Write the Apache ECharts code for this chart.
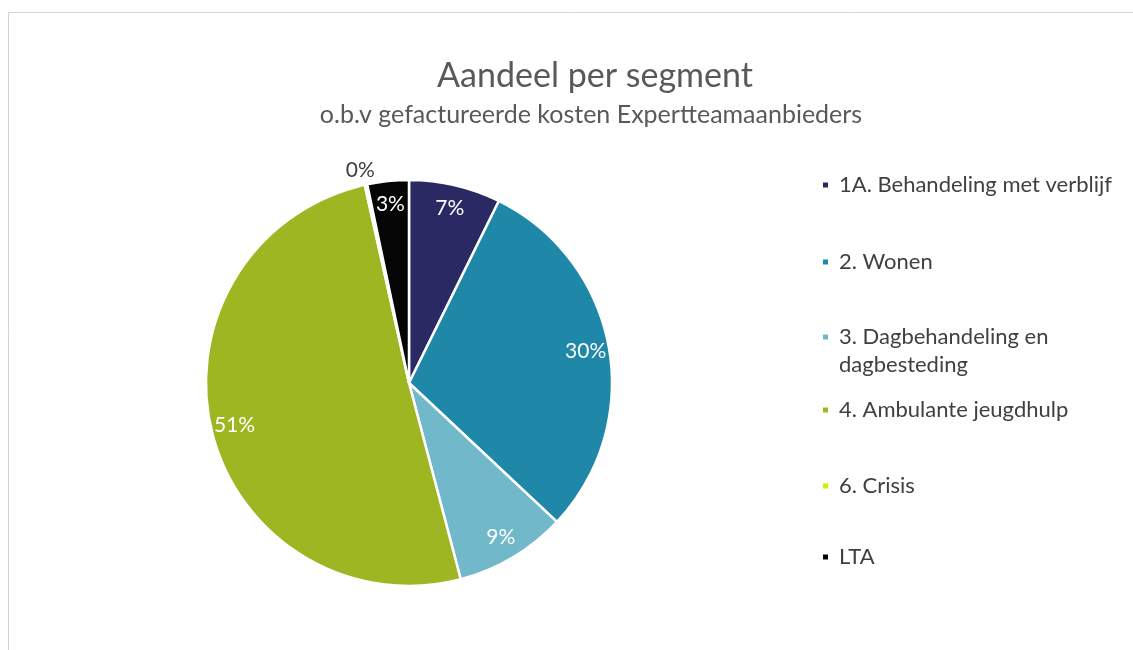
<!DOCTYPE html>
<html>
<head>
<meta charset="utf-8">
<script src="https://cdn.jsdelivr.net/npm/echarts@6/dist/echarts.min.js"></script>
<style>
html,body{margin:0;padding:0;background:#fff;}
#chart{width:1133px;height:650px;}
</style>
</head>
<body>
<div id="chart"></div>
<script>
// Data
var categories = ['1A. Behandeling met verblijf', '2. Wonen', '3. Dagbehandeling en dagbesteding', '4. Ambulante jeugdhulp', '6. Crisis', 'LTA'];
var shares = [7.3, 29.7, 8.9, 50.6, 0.2, 3.3];
var sliceColors = ['#2b2964', '#1f88a8', '#72b8cb', '#9eb622', '#cdf000', '#050505'];
var titleText = 'Aandeel per segment';
var subtitleText = 'o.b.v gefactureerde kosten Expertteamaanbieders';

var FONT = 'Lato';
var legendCenters = [185, 262, 337, 410, 486, 557];

var chart = echarts.init(document.getElementById('chart'));

var mainData = categories.map(function (c, i) {
  return { name: c, value: shares[i], itemStyle: { color: sliceColors[i] } };
});
var labelData = categories.map(function (c, i) {
  var item = { name: c, value: shares[i] };
  if (shares[i] < 1) {
    item.label = { position: 'outside', color: '#404040', distanceToLabelLine: -12 };
    item.labelLine = { show: false, length: 15, length2: 0 };
  }
  return item;
});

var legends = categories.map(function (c, i) {
  var twoLine = c.indexOf('Dagbehandeling') >= 0;
  return {
    data: [c],
    left: 816,
    top: legendCenters[i] - (twoLine ? 47 : 19),
    orient: 'vertical',
    icon: 'rect',
    itemWidth: 7,
    itemHeight: 7,
    itemGap: 6,
    selectedMode: false,
    formatter: function (n) {
      return twoLine ? '\n3. Dagbehandeling en\ndagbesteding' : n;
    },
    textStyle: {
      fontFamily: FONT,
      fontSize: 22,
      color: '#404040',
      lineHeight: 28,
      padding: [0, 0, 0, 5]
    }
  };
});

var option = {
  backgroundColor: '#ffffff',
  animation: false,
  color: sliceColors,
  title: [{
    text: titleText,
    left: 590,
    top: 54,
    textAlign: 'center',
    textStyle: { fontFamily: FONT, fontSize: 34, fontWeight: 'normal', color: '#595959' }
  }, {
    text: subtitleText,
    left: 586,
    top: 97,
    textAlign: 'center',
    textStyle: { fontFamily: FONT, fontSize: 25, fontWeight: 'normal', color: '#595959' }
  }],
  legend: legends,
  graphic: [{
    type: 'polyline',
    silent: true,
    shape: { points: [[8.5, 660], [8.5, 12.5], [1140, 12.5]] },
    style: { stroke: '#d4d4d4', lineWidth: 1, fill: null }
  }],
  series: [{
    type: 'pie',
    center: [409, 383],
    radius: [0, 203],
    startAngle: 90,
    clockwise: true,
    silent: true,
    label: { show: false },
    labelLine: { show: false },
    itemStyle: { borderColor: '#ffffff', borderWidth: 2.5 },
    data: mainData
  }, {
    type: 'pie',
    center: [409, 383],
    radius: [150, 203],
    startAngle: 90,
    clockwise: true,
    silent: true,
    itemStyle: { color: 'rgba(0,0,0,0)', borderWidth: 0 },
    label: {
      show: true,
      position: 'inside',
      color: '#ffffff',
      fontFamily: FONT,
      fontSize: 21,
      formatter: function (p) { return Math.round(p.value) + '%'; }
    },
    labelLine: { show: false },
    data: labelData
  }]
};

chart.setOption(option);
</script>
</body>
</html>
